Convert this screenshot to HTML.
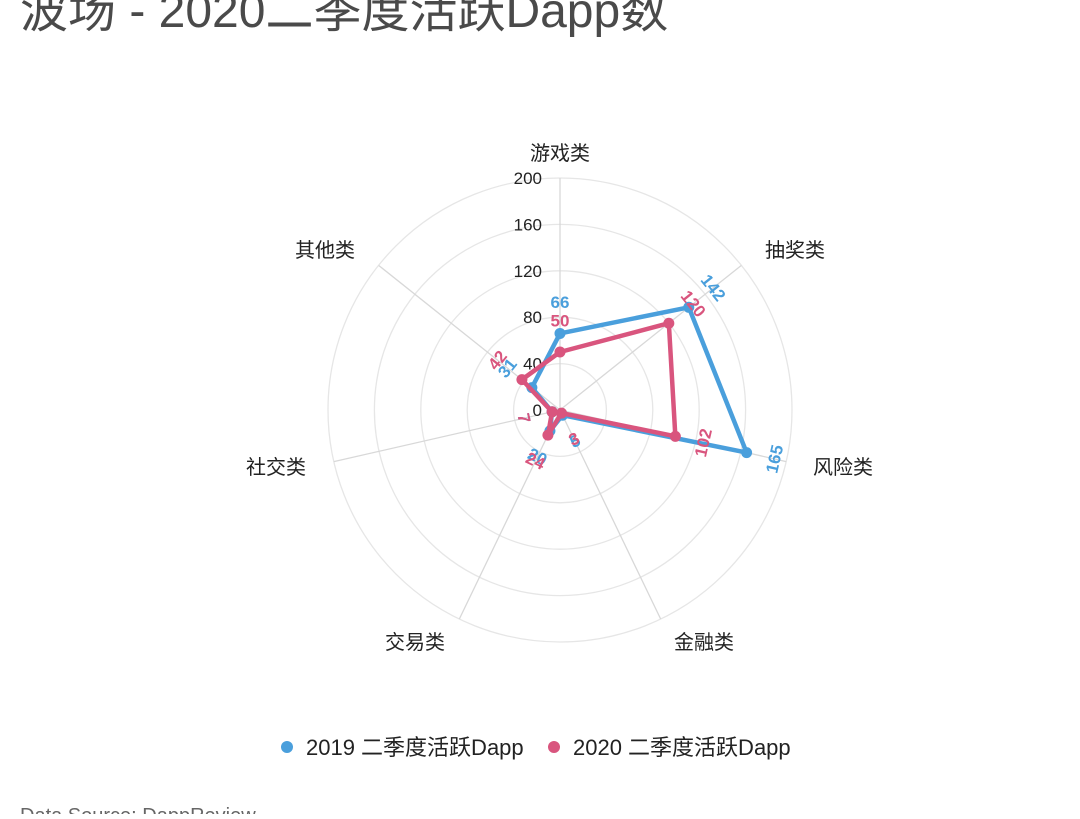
<!DOCTYPE html>
<html><head><meta charset="utf-8"><style>
body{margin:0;background:#fff;width:1080px;height:814px;overflow:hidden;font-family:"Liberation Sans","Noto Sans CJK SC",sans-serif}
</style></head><body>
<svg id="s" width="1080" height="814" xmlns="http://www.w3.org/2000/svg" font-family="Liberation Sans, Noto Sans CJK SC, sans-serif">
<text x="20" y="27" font-size="48" fill="#4a4a4a">波场 - 2020二季度活跃Dapp数</text>
<g id="g"></g>
<circle cx="287" cy="747" r="6" fill="#4a9fdc"/>
<text x="306" y="755" font-size="22" fill="#222">2019 二季度活跃Dapp</text>
<circle cx="554" cy="747" r="6" fill="#d9557e"/>
<text x="573" y="755" font-size="22" fill="#222">2020 二季度活跃Dapp</text>
<text x="20" y="822" font-size="20" fill="#666">Data Source: DappReview</text>
</svg>
<script>
var cx=560,cy=410,k=1.16,g=document.getElementById('g'),h='';
var cats=['游戏类','抽奖类','风险类','金融类','交易类','社交类','其他类'];
var lp=[[560,153],[795,250],[843,467],[704,642],[415,642],[276,467],[325,250]];
var d1=[66,142,165,5,20,7,31],d2=[50,120,102,3,24,7,42];
function P(i,v){var a=i*2*Math.PI/7;return [cx+v*k*Math.sin(a),cy-v*k*Math.cos(a)];}
for(var r=40;r<=200;r+=40)h+='<circle cx="'+cx+'" cy="'+cy+'" r="'+(r*k)+'" fill="none" stroke="#e6e6e6" stroke-width="1.3"/>';
for(var i=0;i<7;i++){var p=P(i,200);h+='<line x1="'+cx+'" y1="'+cy+'" x2="'+p[0]+'" y2="'+p[1]+'" stroke="#d8d8d8" stroke-width="1.3"/>';
h+='<text x="'+lp[i][0]+'" y="'+(lp[i][1]+7)+'" font-size="20" fill="#222" text-anchor="middle">'+cats[i]+'</text>';}
for(var r=0;r<=200;r+=40)h+='<text x="542" y="'+(cy-r*k+6)+'" font-size="17" fill="#222" text-anchor="end">'+r+'</text>';
function ser(d,c){var pts=d.map(function(v,i){return P(i,v).join(',')}).join(' ');
var s='<polygon points="'+pts+'" fill="none" stroke="'+c+'" stroke-width="4.5" stroke-linejoin="round"/>';
d.forEach(function(v,i){var p=P(i,v);s+='<circle cx="'+p[0]+'" cy="'+p[1]+'" r="5.5" fill="'+c+'"/>';
var q=P(i,v+30/k);var th=i*360/7;if(th>90&&th<=270)th-=180;else if(th>270)th-=360;
s+='<text x="'+q[0]+'" y="'+q[1]+'" font-size="17" font-weight="600" fill="'+c+'" text-anchor="middle" dominant-baseline="middle" transform="rotate('+th+' '+q[0]+' '+q[1]+')">'+v+'</text>';});
return s;}
h+=ser(d1,'#4a9fdc')+ser(d2,'#d9557e');
g.innerHTML=h;
</script>
</body></html>
